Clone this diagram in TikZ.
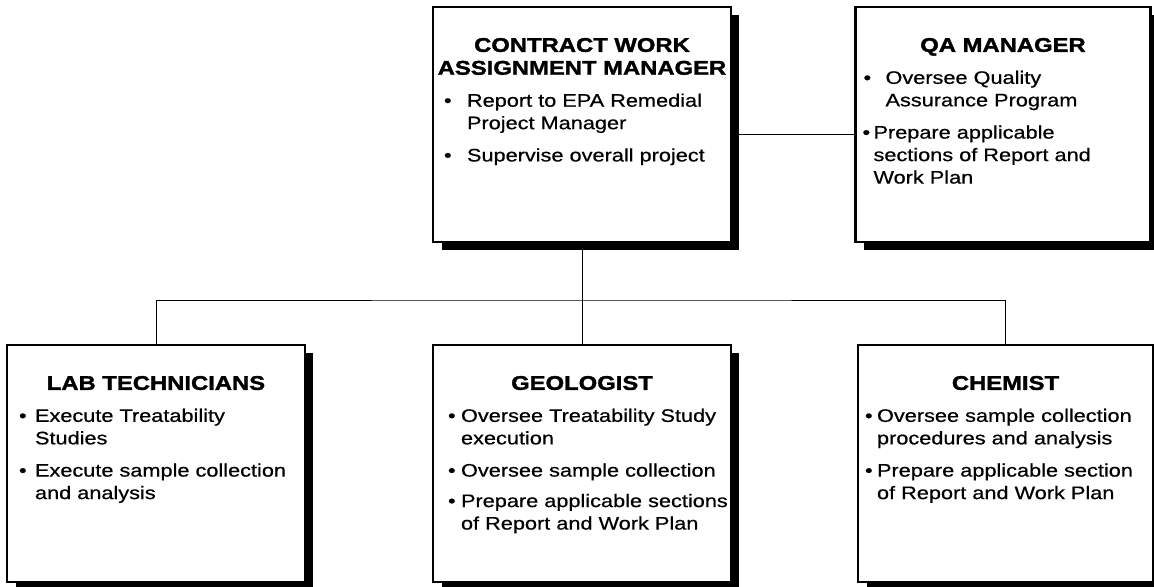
\documentclass[tikz,border=0pt]{standalone}
\usepackage{fontspec}
\setmainfont{Liberation Sans}[FakeStretch=1.2,
  UprightFeatures={FakeBold=0.6},BoldFeatures={FakeBold=1.6}]
\usetikzlibrary{shadows,backgrounds}

\newcommand{\rolebox}[4]{%
  \parbox[c][#1][t]{#2}{\vspace*{0.62cm}%
    {\centering\fontsize{11.3pt}{13pt}\selectfont\bfseries #3\par}%
    \vspace{0.19cm}%
    \fontsize{10.3pt}{12.8pt}\selectfont #4}}
\newcommand{\duty}[3]{%
  \noindent\hspace*{#1}\makebox[\dimexpr#2-#1\relax][l]{\textbullet}%
  \begin{tabular}[t]{@{}l@{}}#3\end{tabular}\par\vspace{0.16cm}}

\begin{document}
\begin{tikzpicture}[x=0.02cm,y=-0.02cm,line width=1.3pt,
    role/.style={draw,line width=1.6pt,fill=white,inner sep=0pt,
      drop shadow={shadow xshift=0.17cm,shadow yshift=-0.16cm,opacity=1,fill=black}}]
    \useasboundingbox (0,0) rectangle (1154,587);

    \node[role] (cwam) at (582,124.5) {\rolebox{4.7cm}{5.96cm}{CONTRACT WORK\\ASSIGNMENT MANAGER}{%
      \duty{0.22cm}{0.68cm}{Report to EPA Remedial\\Project Manager}
      \duty{0.22cm}{0.68cm}{Supervise overall project}}};
    \node[role] (qa) at (1003,124.5) {\rolebox{4.7cm}{5.9cm}{QA MANAGER}{%
      \duty{0.16cm}{0.6cm}{Oversee Quality\\Assurance Program}
      \duty{0.14cm}{0.36cm}{Prepare applicable\\sections of Report and\\Work Plan}}};

    \node[role] (lab) at (156,463.5) {\rolebox{4.74cm}{5.96cm}{LAB TECHNICIANS}{%
      \duty{0.24cm}{0.56cm}{Execute Treatability\\Studies}
      \duty{0.24cm}{0.56cm}{Execute sample collection\\and analysis}}};
    \node[role] (geo) at (582,463.5) {\rolebox{4.74cm}{5.96cm}{GEOLOGIST}{%
      \duty{0.3cm}{0.56cm}{Oversee Treatability Study\\execution}
      \duty{0.3cm}{0.56cm}{Oversee sample collection}
      \duty{0.3cm}{0.56cm}{Prepare applicable sections\\of Report and Work Plan}}};
    \node[role] (chem) at (1005.5,463.5) {\rolebox{4.74cm}{5.9cm}{CHEMIST}{%
      \duty{0.14cm}{0.38cm}{Oversee sample collection\\procedures and analysis}
      \duty{0.14cm}{0.38cm}{Prepare applicable section\\of Report and Work Plan}}};

    \coordinate (bar) at (582,300);
    \begin{scope}[on background layer]
      \draw ([yshift=-0.2cm]cwam.east) -- ([yshift=-0.2cm]qa.west);
      \draw (cwam.south) -- (geo.north);
      \draw (lab.north) |- (bar) -| (chem.north);
    \end{scope}
\end{tikzpicture}
\end{document}
